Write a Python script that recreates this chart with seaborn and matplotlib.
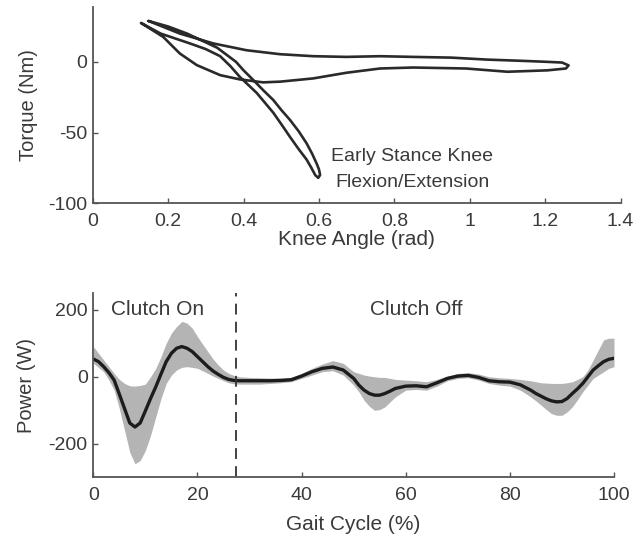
import matplotlib
matplotlib.use("Agg")
import matplotlib.pyplot as plt
import numpy as np
import pandas as pd
import seaborn as sns

# Knee torque vs. knee angle loop (one gait cycle, traced in order)
knee_angle = [
    0.148, 0.231, 0.320, 0.408, 0.497, 0.585, 0.673, 0.762, 0.850, 0.950,
    1.045, 1.140, 1.206, 1.245, 1.262,
    1.255, 1.206, 1.100, 0.990, 0.850, 0.762, 0.673, 0.585, 0.497, 0.452,
    0.390, 0.338, 0.276, 0.231, 0.187, 0.128,
    0.180, 0.258, 0.300, 0.338, 0.365, 0.390, 0.435, 0.479, 0.500, 0.523,
    0.547, 0.567, 0.580, 0.590, 0.598,
    0.603, 0.600, 0.594, 0.582, 0.567, 0.546, 0.523, 0.500, 0.479, 0.452,
    0.426, 0.400, 0.380, 0.330, 0.290, 0.250, 0.200, 0.148,
]
knee_torque = [
    28.9, 20.0, 13.0, 8.2, 5.4, 4.0, 3.5, 4.0, 3.5, 3.0,
    1.6, 0.7, 0.0, -0.5, -2.5,
    -4.7, -6.0, -7.0, -4.7, -4.0, -4.7, -7.7, -11.7, -14.0, -14.5,
    -12.4, -9.4, -2.3, 5.9, 17.6, 27.5,
    20.0, 13.0, 9.0, 4.0, -3.0, -10.6, -22.0, -36.0, -44.0, -53.0,
    -62.0, -69.0, -75.0, -80.0, -82.0,
    -80.0, -76.0, -72.0, -65.0, -57.5, -49.0, -41.0, -34.0, -27.0, -20.0,
    -12.9, -6.0, 0.0, 10.0, 15.0, 20.0, 25.0, 28.9,
]

# Knee power over the gait cycle: mean and spread band
gait_pct = (list(range(0, 29)) + list(range(30, 50, 2)) + list(range(50, 59))
            + list(range(60, 85, 2)) + list(range(85, 101)))
power_mean = [
    53, 45, 30, 12, -10, -52, -95, -138, -150, -138,
    -102, -65, -30, 8, 45, 70, 85, 90, 85, 75,
    60, 45, 30, 17, 7, -2, -8, -11, -12,
    -12, -12, -12, -11, -9, 2, 15, 25, 29, 20,
    -5, -25, -40, -50, -55, -55, -50, -43, -35,
    -28, -27, -30, -18, -5, 2, 4, -2, -12, -15, -16, -24, -40,
    -50, -58, -66, -72, -75, -74, -65, -50, -36, -20, 0, 20, 33, 45, 52, 55,
]
power_upper = [
    90, 70, 50, 30, 10, -8, -20, -27, -28, -26,
    -22, 0, 25, 60, 100, 130, 150, 165, 160, 145,
    120, 97, 75, 53, 35, 20, 10, 4, 0,
    -2, -3, -4, -4, -2, 10, 25, 38, 48, 40,
    15, 10, 5, 2, 0, -2, -2, -5, -8,
    -10, -12, -15, -8, 2, 10, 12, 8, 0, -3, -5, -8, -12,
    -15, -18, -19, -20, -20, -20, -18, -15, -8, 0, 20, 50, 80, 110, 115, 115,
]
power_lower = [
    40, 28, 15, -10, -40, -95, -160, -225, -260, -250,
    -220, -175, -120, -65, -20, 5, 20, 28, 30, 28,
    25, 18, 10, 2, -5, -12, -18, -21, -22,
    -22, -22, -20, -18, -15, -5, 5, 15, 18, 5,
    -25, -45, -70, -88, -100, -98, -90, -75, -60,
    -40, -38, -40, -28, -12, -5, -3, -10, -20, -25, -28, -40, -60,
    -72, -85, -98, -110, -115, -115, -105, -90, -68, -45, -25, -5, 5, 15, 25, 30,
]
clutch_switch = 27.5

sns.set_theme(style="ticks")
plt.rcParams["font.family"] = ["Liberation Sans", "DejaVu Sans"]
plt.rcParams["axes.unicode_minus"] = False
text_col = "#3a3a3a"
spine_col = "#555555"

fig = plt.figure(figsize=(6.36, 5.39), dpi=100)
ax1 = fig.add_axes([0.1458, 0.6228, 0.830, 0.3648])
ax2 = fig.add_axes([0.1467, 0.1145, 0.8187, 0.342])

loop_df = pd.DataFrame({"angle": knee_angle, "torque": knee_torque})
sns.lineplot(data=loop_df, x="angle", y="torque", sort=False, estimator=None,
             color="#2a2a2a", lw=1.9, ax=ax1)
ax1.set_xlim(0, 1.4)
ax1.set_ylim(-100, 39)
ax1.set_xticks([0, 0.2, 0.4, 0.6, 0.8, 1.0, 1.2, 1.4])
ax1.set_xticklabels(["0", "0.2", "0.4", "0.6", "0.8", "1", "1.2", "1.4"])
ax1.set_yticks([-100, -50, 0])
ax1.set_xlabel("Knee Angle (rad)", fontsize=15, color=text_col, labelpad=0)
ax1.set_ylabel("Torque (Nm)", fontsize=14.5, color=text_col, labelpad=7)
ax1.text(0.848, -67, "Early Stance Knee", ha="center", va="center",
         fontsize=14, color=text_col)
ax1.text(0.848, -85, "Flexion/Extension", ha="center", va="center",
         fontsize=14, color=text_col)

power_df = pd.DataFrame({"pct": gait_pct, "mean": power_mean})
ax2.fill_between(gait_pct, power_lower, power_upper, color="#b4b4b4", lw=0)
sns.lineplot(data=power_df, x="pct", y="mean", color="#1c1c1c", lw=2.4, ax=ax2)
ax2.axvline(clutch_switch, color="#333333", lw=1.3, ls=(0, (6, 4)))
ax2.set_xlim(0, 100)
ax2.set_ylim(-300, 250)
ax2.set_xticks([0, 20, 40, 60, 80, 100])
ax2.set_yticks([-200, 0, 200])
ax2.set_xlabel("Gait Cycle (%)", fontsize=15, color=text_col, labelpad=8)
ax2.set_ylabel("Power (W)", fontsize=14.5, color=text_col, labelpad=9)
ax2.text(12.3, 200, "Clutch On", ha="center", va="center", fontsize=15,
         color=text_col)
ax2.text(62, 200, "Clutch Off", ha="center", va="center", fontsize=15,
         color=text_col)

for ax in (ax1, ax2):
    sns.despine(ax=ax)
    for side in ("left", "bottom"):
        ax.spines[side].set_color(spine_col)
        ax.spines[side].set_linewidth(1.3)
    ax.tick_params(direction="in", length=3.5, width=1.0, color=spine_col,
                   labelsize=14, labelcolor=text_col)
    ax.tick_params(axis="x", pad=7)
    ax.tick_params(axis="y", pad=4)

fig.savefig("out.png", dpi=100, facecolor="white")
